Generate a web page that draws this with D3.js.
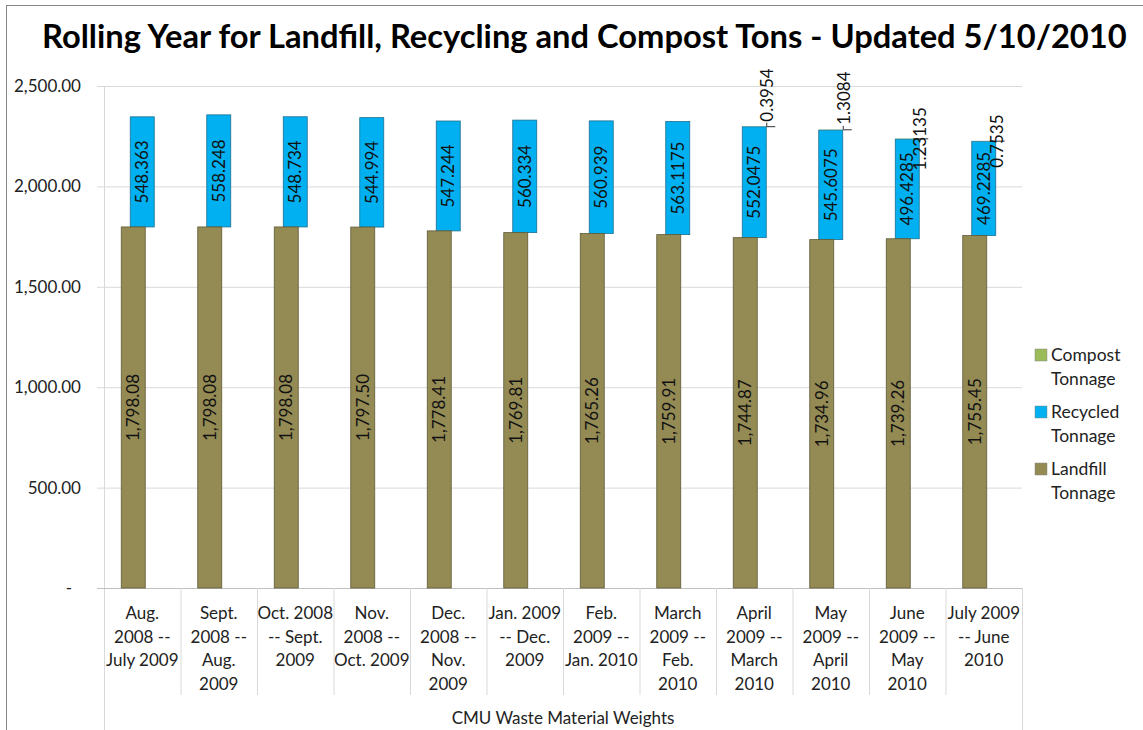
<!DOCTYPE html>
<html>
<head>
<meta charset="utf-8">
<script src="https://cdn.jsdelivr.net/npm/d3@7"></script>
<style>
    body { margin: 0; background: #fff; }
    svg { display: block; font-family: Lato, "Open Sans", sans-serif; }
</style>
</head>
<body>
<svg id="chart" width="1143" height="730"></svg>
<script>
var title = "Rolling Year for Landfill, Recycling and Compost Tons - Updated 5/10/2010";
var axisTitle = "CMU Waste Material Weights";

var categories = [
    "Aug.\n2008 --\nJuly 2009",
    "Sept.\n2008 --\nAug.\n2009",
    "Oct. 2008\n-- Sept.\n2009",
    "Nov.\n2008 --\nOct. 2009",
    "Dec.\n2008 --\nNov.\n2009",
    "Jan. 2009\n-- Dec.\n2009",
    "Feb.\n2009 --\nJan. 2010",
    "March\n2009 --\nFeb.\n2010",
    "April\n2009 --\nMarch\n2010",
    "May\n2009 --\nApril\n2010",
    "June\n2009 --\nMay\n2010",
    "July 2009\n-- June\n2010"
];

var landfill = [1798.08, 1798.08, 1798.08, 1797.50, 1778.41, 1769.81, 1765.26, 1759.91, 1744.87, 1734.96, 1739.26, 1755.45];
var recycled = [548.363, 558.248, 548.734, 544.994, 547.244, 560.334, 560.939, 563.1175, 552.0475, 545.6075, 496.4285, 469.2285];
var compost = [null, null, null, null, null, null, null, null, 0.3954, 1.3084, 1.23135, 0.7535];

var yTicks = [0, 500, 1000, 1500, 2000, 2500];

var legendItems = [
    {name: "Compost\nTonnage", color: "#9BBB59"},
    {name: "Recycled\nTonnage", color: "#00B0F0"},
    {name: "Landfill\nTonnage", color: "#948A54"}
];

function draw_chart() {
    var svg = d3.select("#chart"),
        colors = {landfill: "#948A54", recycled: "#00B0F0", compost: "#9BBB59"},
        plot = {left: 104, right: 1022, top: 86, bottom: 588, front: 97};

    // outer chart border (runs off the picture right and bottom)
    svg.append("rect").attr("x", 6.5).attr("y", 5.5).attr("width", 1300).attr("height", 900)
        .attr("fill", "none").attr("stroke", "#868686");

    var t = svg.append("text").attr("x", 42).attr("y", 48)
        .style("font-weight", "bold").style("font-size", "30px").text(title);
    var tw = t.node().getComputedTextLength();
    t.style("font-size", (30 * 1085 / tw) + "px");

    var x = d3.scaleBand().domain(categories).range([plot.left, plot.right]),
        y = d3.scaleLinear().domain([0, 2500]).range([plot.bottom, plot.top]),
        bw = x.bandwidth(),
        barW = 24;

    // gridlines
    svg.append("g").selectAll("line").data(yTicks.filter(d => d > 0)).enter().append("line")
        .attr("x1", plot.front).attr("x2", plot.right)
        .attr("y1", d => y(d) + 0.5).attr("y2", d => y(d) + 0.5)
        .attr("stroke", "#d9d9d9");

    svg.append("line").attr("x1", plot.left + 0.5).attr("x2", plot.left + 0.5)
        .attr("y1", plot.top).attr("y2", 730).attr("stroke", "#d9d9d9");

    // y axis labels
    svg.append("g").selectAll("text").data(yTicks).enter().append("text")
        .attr("x", d => d === 0 ? 72 : 81).attr("y", d => y(d))
        .attr("dy", "0.35em").attr("text-anchor", "end")
        .style("font-size", "17px").attr("fill", "#222")
        .text(d => d === 0 ? "-" : d3.format(",.2f")(d));

    // category axis box
    svg.append("line").attr("x1", plot.front).attr("x2", plot.right)
        .attr("y1", plot.bottom + 0.5).attr("y2", plot.bottom + 0.5).attr("stroke", "#bfbfbf");
    svg.append("g").selectAll("line").data(categories.slice(1)).enter().append("line")
        .attr("x1", d => x(d) + 0.5).attr("x2", d => x(d) + 0.5)
        .attr("y1", plot.bottom).attr("y2", 695).attr("stroke", "#d9d9d9");
    svg.append("line").attr("x1", plot.right + 0.5).attr("x2", plot.right + 0.5)
        .attr("y1", plot.bottom).attr("y2", 730).attr("stroke", "#d9d9d9");

    var catLabels = svg.append("g").selectAll("text").data(categories).enter().append("text")
        .attr("text-anchor", "middle").style("font-size", "17px").attr("fill", "#222");
    catLabels.each(function(d) {
        var el = d3.select(this);
        d.split("\n").forEach((line, i) => {
            el.append("tspan").attr("x", x(d) + bw / 2).attr("y", 619 + i * 23.5).text(line);
        });
    });

    svg.append("text").attr("x", 563).attr("y", 724).attr("text-anchor", "middle")
        .style("font-size", "17px").attr("fill", "#222").text(axisTitle);

    var rows = categories.map((c, i) => ({cat: c, i: i, l: landfill[i], r: recycled[i], c: compost[i]}));

    // bars: front (landfill) sits a little left of the recycled block, like the 3D original
    var lx = d => x(d.cat) + bw / 2 - 9 - barW / 2,
        rx = d => x(d.cat) + bw / 2 - barW / 2;

    var g = svg.append("g");
    g.selectAll(".rec").data(rows).enter().append("rect").classed("rec", true)
        .attr("x", rx).attr("width", barW)
        .attr("y", d => y(d.l + d.r)).attr("height", d => y(d.l) - y(d.l + d.r))
        .attr("fill", colors.recycled).attr("stroke", "#1f6f8f").attr("stroke-width", 0.8);

    g.selectAll(".cmp").data(rows.filter(d => d.c)).enter().append("rect").classed("cmp", true)
        .attr("x", rx).attr("width", barW)
        .attr("y", d => y(d.l + d.r + d.c)).attr("height", d => y(d.l + d.r) - y(d.l + d.r + d.c))
        .attr("fill", colors.compost);

    g.selectAll(".land").data(rows).enter().append("rect").classed("land", true)
        .attr("x", lx).attr("width", barW)
        .attr("y", d => y(d.l)).attr("height", d => y(0) - y(d.l))
        .attr("fill", colors.landfill).attr("stroke", "#5f5a36").attr("stroke-width", 0.8);

    // value labels
    g.selectAll(".llab").data(rows).enter().append("text")
        .attr("transform", d => "translate(" + [lx(d) + barW / 2, (y(0) + y(d.l)) / 2] + ") rotate(-90)")
        .attr("text-anchor", "middle").attr("dy", "0.35em").style("font-size", "17px").attr("fill", "#111")
        .text(d => d3.format(",.2f")(d.l));

    g.selectAll(".rlab").data(rows).enter().append("text")
        .attr("transform", d => "translate(" + [rx(d) + barW / 2, (y(d.l) + y(d.l + d.r)) / 2] + ") rotate(-90)")
        .attr("text-anchor", "middle").attr("dy", "0.35em").style("font-size", "17px").attr("fill", "#111")
        .text(d => String(d.r));

    // compost labels with leader lines; the last two collide with the bar like in Excel
    var crow = rows.filter(d => d.c),
        centered = d => d.i >= 10;
    g.selectAll(".clead").data(crow).enter().append("path")
        .attr("d", d => {
            var top = y(d.l + d.r + d.c), ex = rx(d) + barW;
            return centered(d)
                ? "M" + (ex - 6) + "," + top + "H" + (ex + 9)
                : "M" + (ex + 0.5) + "," + (top - 4) + "V" + top + "H" + (ex + 9);
        })
        .attr("fill", "none").attr("stroke", "#333").attr("stroke-width", 1);

    g.selectAll(".clab").data(crow).enter().append("text")
        .attr("transform", d => {
            var top = y(d.l + d.r + d.c), ex = rx(d) + barW;
            return "translate(" + [ex + 1, centered(d) ? top : top - 5] + ") rotate(-90)";
        })
        .attr("text-anchor", d => centered(d) ? "middle" : "start")
        .attr("dy", "0.35em").style("font-size", "17px").attr("fill", "#111")
        .text(d => String(d.c));

    // legend
    var leg = svg.append("g").selectAll("g").data(legendItems).enter().append("g")
        .attr("transform", (d, i) => "translate(1035," + (349 + i * 57) + ")");
    leg.append("rect").attr("width", 12).attr("height", 12).attr("fill", d => d.color)
        .attr("stroke", "#888").attr("stroke-width", 0.5);
    leg.append("text").style("font-size", "17.5px").attr("fill", "#222")
        .each(function(d) {
            var el = d3.select(this);
            d.name.split("\n").forEach((line, i) => {
                el.append("tspan").attr("x", 16).attr("y", 12 + i * 23.5).text(line);
            });
        });
}

draw_chart();
</script>
</body>
</html>
